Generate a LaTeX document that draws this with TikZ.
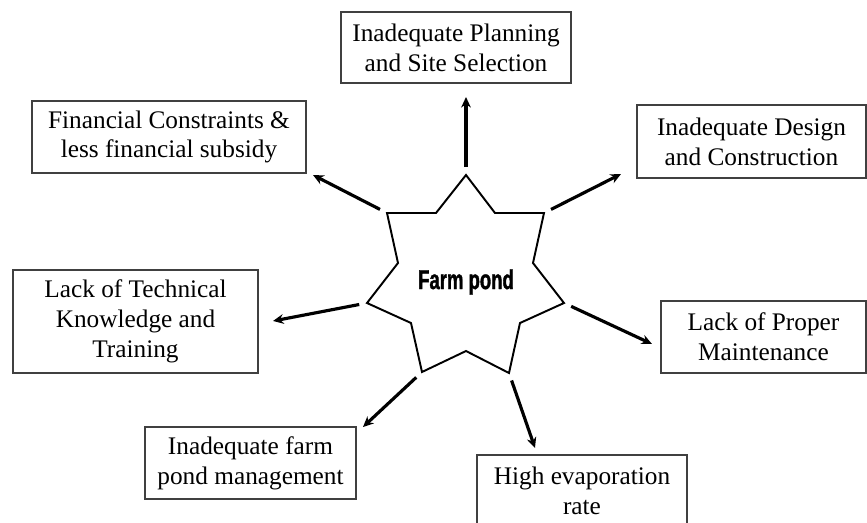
\documentclass[tikz,border=0pt]{standalone}
\usepackage{fontspec}
\setmainfont{Liberation Serif}
\newfontfamily\pondfont[FakeStretch=0.68, BoldFeatures={FakeBold=1.3}]{Liberation Sans}
\usetikzlibrary{arrows.meta}
\tikzset{
  cause/.style={draw=black!75, line width=0.7pt, align=center, inner sep=0pt},
  link/.style={->, line width=1.8pt, shorten <=4.5pt}
}
\begin{document}
\begin{tikzpicture}[x=0.02cm, y=-0.02cm, font=\fontsize{14.4}{17}\selectfont, line join=miter, >={Stealth[length=6pt,width=5.5pt]}]
\useasboundingbox (0,0) rectangle (867,522);
% star
\coordinate (t1) at (466,175); \coordinate (i1) at (495,213);
\coordinate (t2) at (544,213); \coordinate (i2) at (533,263);
\coordinate (t3) at (564,303); \coordinate (i3) at (520,323);
\coordinate (t4) at (509,373); \coordinate (i4) at (466,351);
\coordinate (t5) at (422,372); \coordinate (i5) at (411,323);
\coordinate (t6) at (367,303); \coordinate (i6) at (398,263);
\coordinate (t7) at (387,213); \coordinate (i7) at (436,213);
\draw[line width=1.1pt] (t1)--(i1)--(t2)--(i2)--(t3)--(i3)--(t4)--(i4)--(t5)--(i5)--(t6)--(i6)--(t7)--(i7)--cycle;
\node (pond) at (466,282) {\fontsize{15.5}{17}\pondfont\bfseries Farm pond};
% causes
\node[cause, minimum width=4.6cm, minimum height=1.42cm] (plan) at (456,47.5) {Inadequate Planning\\and Site Selection};
\node[cause, minimum width=5.48cm, minimum height=1.44cm] (fin) at (169,137) {Financial Constraints \&\\less financial subsidy};
\node[cause, minimum width=4.58cm, minimum height=1.46cm] (design) at (751.5,141.5) {Inadequate Design\\and Construction};
\node[cause, minimum width=4.9cm, minimum height=2.06cm] (tech) at (135.5,321.5) {Lack of Technical\\Knowledge and\\Training};
\node[cause, minimum width=4.1cm, minimum height=1.44cm] (maint) at (763.5,337) {Lack of Proper\\Maintenance};
\node[cause, minimum width=4.22cm, minimum height=1.44cm] (manage) at (250.5,463) {Inadequate farm\\pond management};
\node[cause, minimum width=4.2cm, minimum height=1.44cm] (evap) at (582,491) {High evaporation\\rate};
% arrow heads
\coordinate (h1) at (466,97);
\coordinate (h2) at (621,174);
\coordinate (h3) at (652,344);
\coordinate (h4) at (535,448);
\coordinate (h5) at (363,427);
\coordinate (h6) at (273,321);
\coordinate (h7) at (313,175);
\foreach \a in {1,...,7} \draw[link] (t\a) -- (h\a);
\end{tikzpicture}
\end{document}
